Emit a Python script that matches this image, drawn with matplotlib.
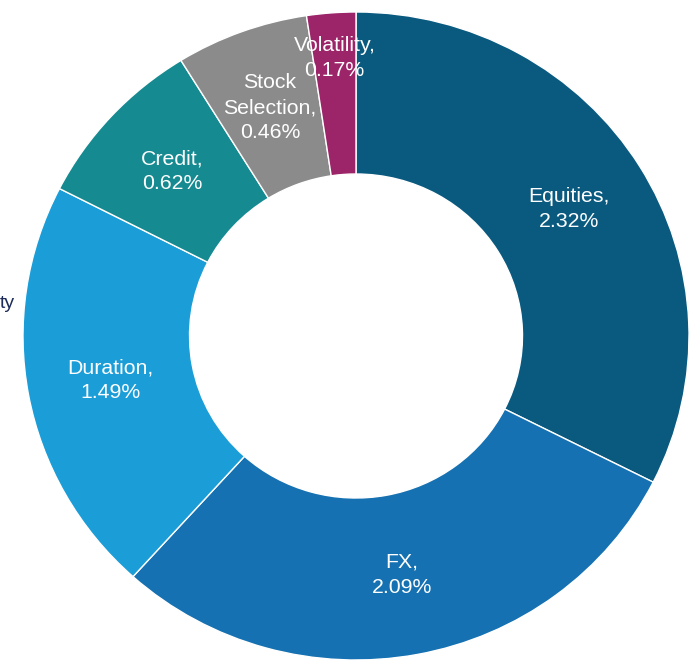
import numpy as np
import matplotlib
matplotlib.use("Agg")
import matplotlib.pyplot as plt

plt.rcParams['font.family'] = ['Liberation Sans', 'DejaVu Sans']

# attribution by source (%)
names = ["Equities", "FX", "Duration", "Credit", "Stock\nSelection", "Volatility"]
values = [2.32, 2.09, 1.49, 0.62, 0.46, 0.17]
colors = ["#0a5a80", "#1571b1", "#1b9dd8", "#158a90", "#8b8b8b", "#9c2468"]

fig = plt.figure(figsize=(6.93, 6.67), dpi=100)
ax = fig.add_axes([0, 0, 1, 1])

wedges, _ = ax.pie(values, colors=colors, startangle=90, counterclock=False,
                   radius=1.0, wedgeprops=dict(width=0.5, edgecolor="white", linewidth=1.0))

# slightly squashed, like the source image
ax.set_aspect('auto')
ax.set_xlim(-356 / 333, (693 - 356) / 333)
ax.set_ylim(-(667 - 336) / 324, 336 / 324)
ax.axis('off')

for w, name, v in zip(wedges, names, values):
    mid = np.deg2rad((w.theta1 + w.theta2) / 2)
    r = 0.86 if name == "Volatility" else 0.75
    ax.text(r * np.cos(mid), r * np.sin(mid), "%s,\n%.2f%%" % (name, v),
            ha='center', va='center', color='white', fontsize=15.3, linespacing=1.4)

# clipped legend text on the left edge
fig.text(0.0, 1 - 304 / 667, "ty", ha='left', va='center', color="#1f2d5c", fontsize=14)

fig.savefig("out.png", dpi=100)
